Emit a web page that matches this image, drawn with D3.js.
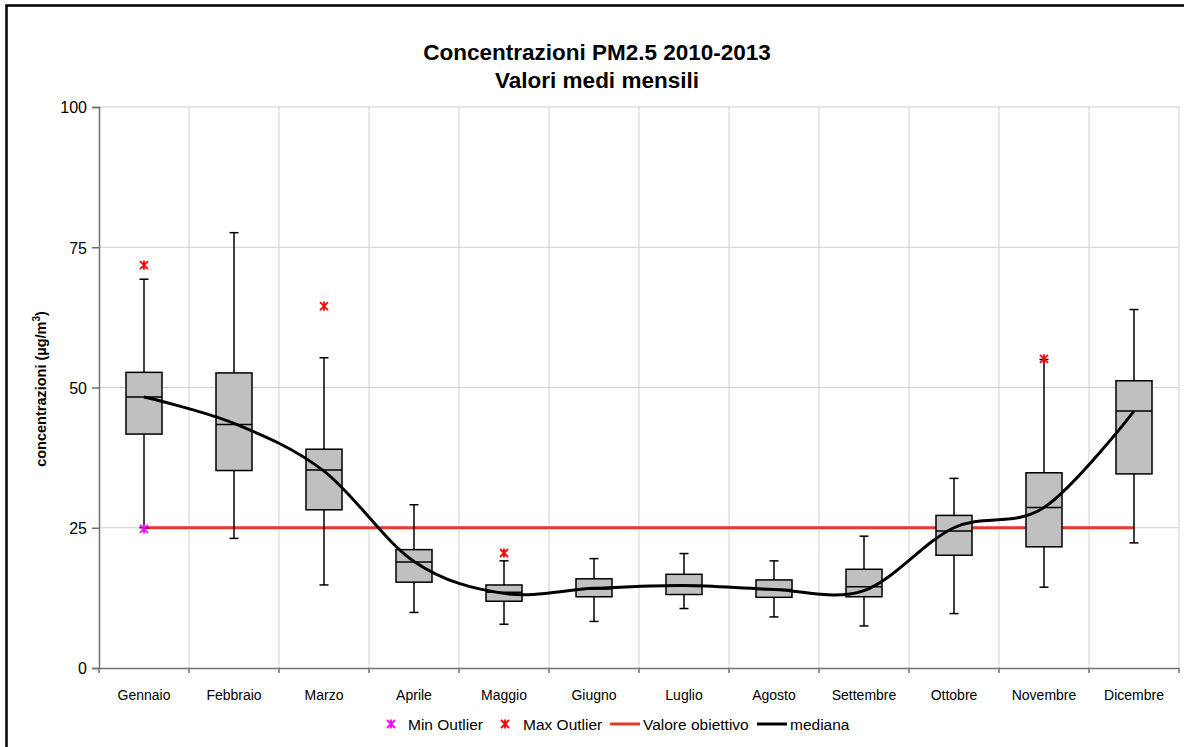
<!DOCTYPE html>
<html>
<head>
<meta charset="utf-8">
<script src="https://cdn.jsdelivr.net/npm/d3@7"></script>
<style>
  body { margin: 0; background: #fff; }
  svg { display: block; font-family: Arial, "Liberation Sans", sans-serif; }
</style>
</head>
<body>
<svg id="chart" width="1184" height="747"></svg>
<script>
// data
var months = ["Gennaio", "Febbraio", "Marzo", "Aprile", "Maggio", "Giugno",
              "Luglio", "Agosto", "Settembre", "Ottobre", "Novembre", "Dicembre"];
var whiskerLow  = [25.0, 23.1, 14.8,  9.9,  7.8,  8.3, 10.6,  9.1,  7.5,  9.7, 14.4, 22.3];
var q1          = [41.7, 35.2, 28.2, 15.3, 11.9, 12.7, 13.1, 12.6, 12.7, 20.1, 21.6, 34.6];
var median      = [48.3, 43.4, 35.3, 18.9, 13.5, 14.1, 14.7, 14.0, 14.5, 24.4, 28.6, 45.8];
var q3          = [52.7, 52.6, 39.0, 21.1, 14.8, 15.9, 16.7, 15.7, 17.6, 27.2, 34.8, 51.2];
var whiskerHigh = [69.3, 77.6, 55.3, 29.1, 19.1, 19.5, 20.4, 19.1, 23.5, 33.8, 55.0, 63.9];
var minOutlier  = [24.8, null, null, null, null, null, null, null, null, null, null, null];
var maxOutlier  = [71.8, null, 64.5, null, 20.5, null, null, null, null, null, 55.1, null];
var mediana     = [48.3, 43.6, 35.1, 19.0, 13.3, 14.2, 14.7, 14.0, 13.8, 25.0, 28.6, 45.8];
var target = 25;
var yTicks = [0, 25, 50, 75, 100];

var svg = d3.select("#chart");

// outer frame of the chart
svg.append("rect")
    .attr("x", 6.5).attr("y", 5.5)
    .attr("width", 1200).attr("height", 800)
    .attr("fill", "none").attr("stroke", "#000").attr("stroke-width", 2.5);

var plotL = 99, plotR = 1179, plotT = 107, plotB = 668;

var x = d3.scaleBand().domain(months).range([plotL, plotR]);
var y = d3.scaleLinear().domain([0, 100]).range([plotB, plotT]);
var cx = function(m) { return x(m) + x.bandwidth() / 2; };

var rows = months.map(function(m, i) {
    return {m: m, lo: whiskerLow[i], q1: q1[i], med: median[i], q3: q3[i], hi: whiskerHigh[i],
            minO: minOutlier[i], maxO: maxOutlier[i], line: mediana[i]};
});

// category boundaries (for vertical grid + ticks)
var edges = months.map(function(m){ return x(m); }).concat([plotR]);

// grid
var grid = svg.append("g");
grid.selectAll("line.h").data(yTicks.filter(function(d){ return d > 0; }))
    .join("line").attr("class", "h")
    .attr("x1", plotL).attr("x2", plotR)
    .attr("y1", function(d){ return y(d); }).attr("y2", function(d){ return y(d); })
    .attr("stroke", "#cfcfcf").attr("stroke-width", 1);
grid.selectAll("line.v").data(edges.slice(1))
    .join("line").attr("class", "v")
    .attr("x1", function(d){ return d; }).attr("x2", function(d){ return d; })
    .attr("y1", plotT).attr("y2", plotB)
    .attr("stroke", "#cfcfcf").attr("stroke-width", 1);

// axes
var yAxis = svg.append("g")
    .attr("transform", "translate(" + plotL + ",0)")
    .call(d3.axisLeft(y).tickValues(yTicks).tickSize(7).tickPadding(5));
var xAxis = svg.append("g")
    .attr("transform", "translate(0," + plotB + ")")
    .call(d3.axisBottom(x).tickSize(0).tickPadding(22));
svg.append("g").selectAll("line").data(edges)
    .join("line")
    .attr("x1", function(d){ return d; }).attr("x2", function(d){ return d; })
    .attr("y1", plotB).attr("y2", plotB + 5)
    .attr("stroke", "#707070").attr("stroke-width", 1.5);

[yAxis, xAxis].forEach(function(a) {
    a.select(".domain").attr("stroke", "#707070").attr("stroke-width", 1.5);
    a.selectAll(".tick line").attr("stroke", "#707070").attr("stroke-width", 1.5);
    a.selectAll("text").attr("fill", "#000").attr("font-family", "Arial, 'Liberation Sans', sans-serif");
});
yAxis.selectAll("text").attr("font-size", 16).attr("dy", "0.36em");
xAxis.selectAll("text").attr("font-size", 14);

// target line
svg.append("line")
    .attr("x1", cx(months[0])).attr("x2", cx(months[months.length - 1]))
    .attr("y1", y(target)).attr("y2", y(target))
    .attr("stroke", "#e5392a").attr("stroke-width", 3);

// boxes
var boxW = 36, capW = 9;
var g = svg.append("g");
var box = g.selectAll("g.box").data(rows).join("g").attr("class", "box")
    .attr("transform", function(d){ return "translate(" + cx(d.m) + ",0)"; });
box.append("line")
    .attr("y1", function(d){ return y(d.lo); }).attr("y2", function(d){ return y(d.hi); })
    .attr("stroke", "#000").attr("stroke-width", 1.5);
box.append("line")
    .attr("x1", -capW / 2).attr("x2", capW / 2)
    .attr("y1", function(d){ return y(d.hi); }).attr("y2", function(d){ return y(d.hi); })
    .attr("stroke", "#000").attr("stroke-width", 1.5);
box.append("line")
    .attr("x1", -capW / 2).attr("x2", capW / 2)
    .attr("y1", function(d){ return y(d.lo); }).attr("y2", function(d){ return y(d.lo); })
    .attr("stroke", "#000").attr("stroke-width", 1.5);
box.append("rect")
    .attr("x", -boxW / 2).attr("width", boxW)
    .attr("y", function(d){ return y(d.q3); })
    .attr("height", function(d){ return y(d.q1) - y(d.q3); })
    .attr("fill", "#c0c0c0").attr("stroke", "#000").attr("stroke-width", 1.5);
box.append("line")
    .attr("x1", -boxW / 2).attr("x2", boxW / 2)
    .attr("y1", function(d){ return y(d.med); }).attr("y2", function(d){ return y(d.med); })
    .attr("stroke", "#000").attr("stroke-width", 1.5);

// star marker (x with vertical bar)
function star(s) {
    return "M" + (-s) + "," + (-s) + "L" + s + "," + s +
           "M" + (-s) + "," + s + "L" + s + "," + (-s) +
           "M0," + (-s * 1.15) + "L0," + (s * 1.15);
}

// smoothed median line
var line = d3.line()
    .x(function(d){ return cx(d.m); })
    .y(function(d){ return y(d.line); })
    .curve(d3.curveCardinal.tension(0));
svg.append("path").datum(rows)
    .attr("d", line)
    .attr("fill", "none").attr("stroke", "#000").attr("stroke-width", 3);

svg.append("g").selectAll("path").data(rows.filter(function(d){ return d.maxO != null; }))
    .join("path")
    .attr("d", star(4))
    .attr("transform", function(d){ return "translate(" + cx(d.m) + "," + y(d.maxO) + ")"; })
    .attr("stroke", "#ff0000").attr("stroke-width", 1.8).attr("fill", "none");
svg.append("g").selectAll("path").data(rows.filter(function(d){ return d.minO != null; }))
    .join("path")
    .attr("d", star(4))
    .attr("transform", function(d){ return "translate(" + cx(d.m) + "," + y(d.minO) + ")"; })
    .attr("stroke", "#ff00ff").attr("stroke-width", 1.8).attr("fill", "none");

// titles
svg.append("text").attr("x", 597).attr("y", 60)
    .attr("text-anchor", "middle").attr("font-size", 22.5).attr("font-weight", "bold")
    .text("Concentrazioni PM2.5 2010-2013");
svg.append("text").attr("x", 597).attr("y", 88)
    .attr("text-anchor", "middle").attr("font-size", 22.5).attr("font-weight", "bold")
    .text("Valori medi mensili");

var yl = svg.append("text")
    .attr("transform", "translate(46,389) rotate(-90)")
    .attr("text-anchor", "middle").attr("font-size", 14.5).attr("font-weight", "bold");
yl.append("tspan").text("concentrazioni (µg/m");
yl.append("tspan").attr("font-size", 10).attr("dy", -6).text("3");
yl.append("tspan").attr("dy", 6).text(")");

// legend
var leg = svg.append("g").attr("font-size", 15.5);
var ly = 724;
leg.append("path").attr("d", star(4)).attr("transform", "translate(391," + ly + ")")
    .attr("stroke", "#ff00ff").attr("stroke-width", 1.8).attr("fill", "none");
leg.append("text").attr("x", 408).attr("y", ly + 5.5).text("Min Outlier");
leg.append("path").attr("d", star(4)).attr("transform", "translate(505," + ly + ")")
    .attr("stroke", "#ff0000").attr("stroke-width", 1.8).attr("fill", "none");
leg.append("text").attr("x", 523).attr("y", ly + 5.5).text("Max Outlier");
leg.append("line").attr("x1", 610).attr("x2", 640).attr("y1", ly).attr("y2", ly)
    .attr("stroke", "#e5392a").attr("stroke-width", 3);
leg.append("text").attr("x", 643).attr("y", ly + 5.5).text("Valore obiettivo");
leg.append("line").attr("x1", 757).attr("x2", 787).attr("y1", ly).attr("y2", ly)
    .attr("stroke", "#000").attr("stroke-width", 3);
leg.append("text").attr("x", 790).attr("y", ly + 5.5).text("mediana");
</script>
</body>
</html>
